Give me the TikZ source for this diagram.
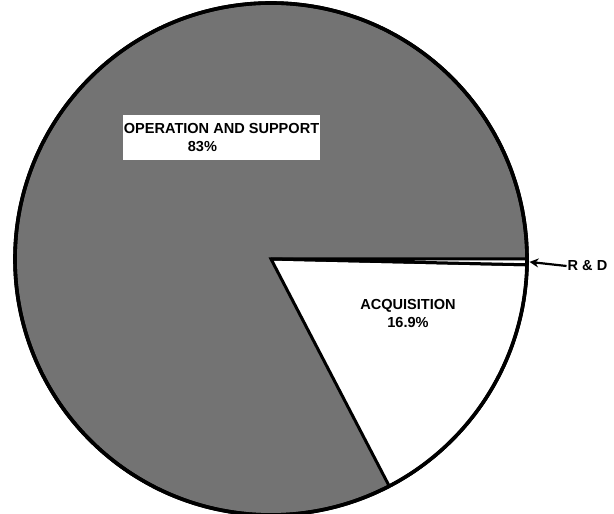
\documentclass[tikz,border=0pt]{standalone}
\usepackage{fontspec}
\usepackage{tikz}
\usetikzlibrary{positioning,arrows.meta,calc}
\newfontfamily\piefont{Liberation Sans}
\definecolor{inkblack}{HTML}{000000}
\definecolor{shadegrey}{HTML}{737373}
\tikzset{
  pie rim/.style={draw=inkblack, line width=3.6bp, line join=round},
  pie os/.style={pie rim, fill=shadegrey},
  pie cut/.style={draw=inkblack, line width=3bp, line join=miter, fill=white},
  pie lab/.style={font=\piefont\bfseries\fontsize{14.6}{19}\selectfont, text=inkblack, inner sep=1bp},
  pie box/.style={pie lab, fill=white, align=left, minimum width=196bp, minimum height=45bp},
  pie arr/.style={-{Stealth[length=9bp, width=9bp]}, line width=2.2bp, inkblack},
}
\begin{document}
\begin{tikzpicture}[x=1bp, y=1bp]
  \useasboundingbox (0,0) rectangle (614,514);
  \coordinate (c) at (271,255);
  % whole pie, operation and support
  \draw[pie os] (c) circle[radius=256];
  % acquisition and the thin R & D slice
  \draw[pie cut] (c) -- ++(-1.3:256) arc[start angle=-1.3, end angle=-62.5, radius=256] -- cycle;
  \draw[pie cut] (c) -- ++(0:256) arc[start angle=0, end angle=-1.3, radius=256] -- cycle;
  \draw[pie rim] (c) circle[radius=256];
  \coordinate (rdtip) at ($(c)+(-0.65:258.5)$);
  % labels
  \node[pie box] (ops) at (221.5,376.5) {OPERATION AND SUPPORT\\\hspace*{64bp}83\%};
  \node[pie lab, align=center] (acq) at (408,200.5) {ACQUISITION\\16.9\%};
  \node[pie lab] (rd) at (587.5,248) {R \& D};
  \draw[pie arr] (rd.west) -- (rdtip);
\end{tikzpicture}
\end{document}
